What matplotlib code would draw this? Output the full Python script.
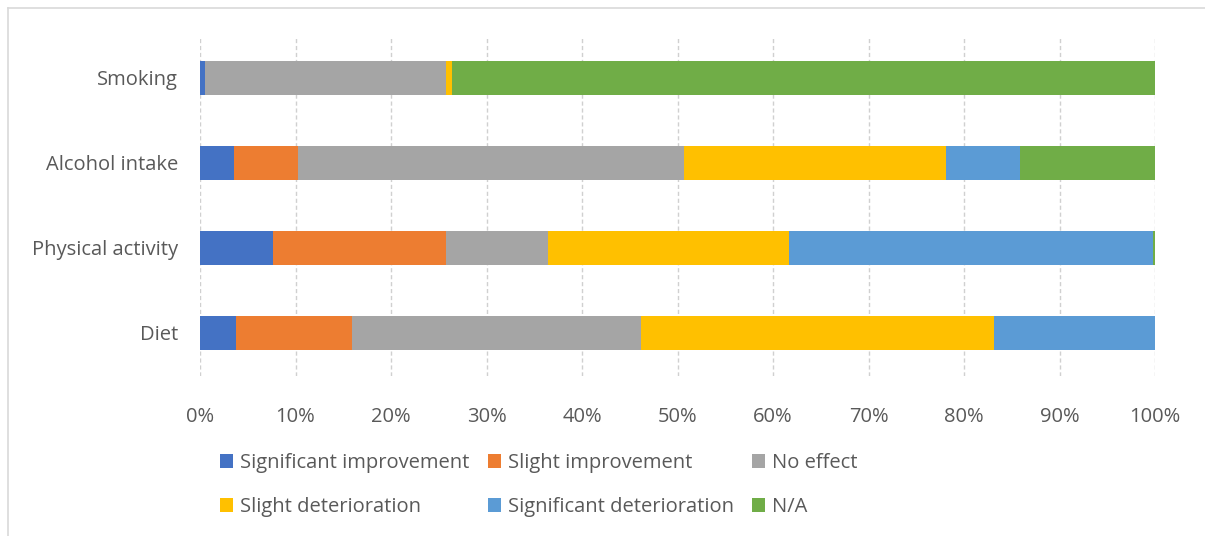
import matplotlib.pyplot as plt
from matplotlib.patches import Patch
from matplotlib.lines import Line2D
from matplotlib.ticker import PercentFormatter

plt.rcParams['font.family'] = ['Open Sans', 'DejaVu Sans']

# categories from top to bottom
categories = ['Smoking', 'Alcohol intake', 'Physical activity', 'Diet']
series_names = ['Significant improvement', 'Slight improvement', 'No effect',
                'Slight deterioration', 'Significant deterioration', 'N/A']
# percentage share of each response, per category
sig_improvement = [0.5, 3.6, 7.6, 3.8]
slight_improvement = [0.0, 6.7, 18.2, 12.1]
no_effect = [25.3, 40.4, 10.6, 30.3]
slight_deterioration = [0.6, 27.4, 25.3, 36.9]
sig_deterioration = [0.0, 7.8, 38.1, 16.9]
not_applicable = [73.6, 14.1, 0.2, 0.0]
series_values = [sig_improvement, slight_improvement, no_effect,
                 slight_deterioration, sig_deterioration, not_applicable]
colors = ['#4472C4', '#ED7D31', '#A5A5A5', '#FFC000', '#5B9BD5', '#70AD47']
x_ticks = list(range(0, 101, 10))

fig = plt.figure(figsize=(12.05, 5.36), dpi=100)
ax = fig.add_axes([200 / 1205, 1 - 375.5 / 536, 955 / 1205, 340 / 536])

ypos = list(range(len(categories)))
left = [0.0] * len(categories)
handles = []
for name, vals, c in zip(series_names, series_values, colors):
    ax.barh(ypos, vals, left=left, height=0.4, color=c, zorder=3)
    left = [l + v for l, v in zip(left, vals)]
    handles.append(Patch(facecolor=c, label=name))

ax.set_xlim(0, 100)
ax.set_ylim(len(categories) - 0.5, -0.5)
ax.set_yticks(ypos)
ax.set_yticklabels(categories)
ax.set_xticks(x_ticks)
ax.xaxis.set_major_formatter(PercentFormatter(decimals=0))
ax.tick_params(axis='both', length=0, labelsize=14.5, colors='#595959')
ax.tick_params(axis='x', pad=23)
ax.tick_params(axis='y', pad=16)
ax.grid(axis='x', color='#D0D0D0', linestyle=(0, (3, 2)), linewidth=1, zorder=0)
for s in ax.spines.values():
    s.set_visible(False)

# legend laid out row-wise: 3 columns, 2 rows
order = [0, 3, 1, 4, 2, 5]
leg = fig.legend([handles[i] for i in order], [series_names[i] for i in order],
                 ncol=3, loc='upper left', bbox_to_anchor=(212 / 1205, 1 - 445 / 536),
                 frameon=False, fontsize=14.5, handlelength=0.65, handleheight=0.65,
                 handletextpad=0.35, columnspacing=0.9, labelspacing=1.2,
                 borderaxespad=0)
for t in leg.get_texts():
    t.set_color('#595959')

# light frame along the top and left edges
fig.add_artist(Line2D([8 / 1205, 1], [1 - 8 / 536, 1 - 8 / 536], color='#D9D9D9', lw=1.2))
fig.add_artist(Line2D([8 / 1205, 8 / 1205], [0, 1 - 8 / 536], color='#D9D9D9', lw=1.2))

fig.savefig('out.png', dpi=100, facecolor='white')
